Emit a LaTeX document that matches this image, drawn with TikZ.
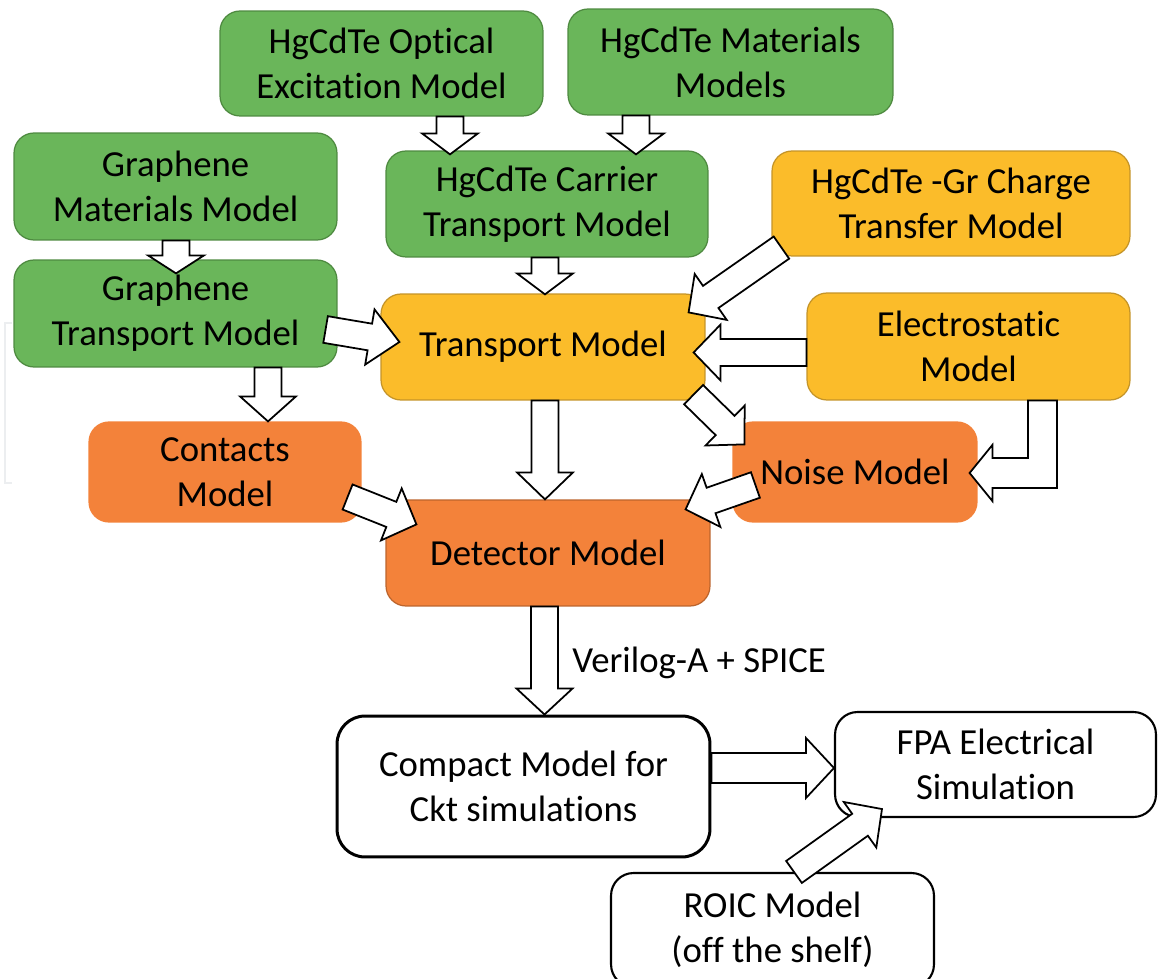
\documentclass[tikz,border=0pt]{standalone}
\usepackage{fontspec}
\setmainfont{Carlito}[Ligatures=NoCommon]
\usetikzlibrary{calc}
\definecolor{gfill}{RGB}{106,182,90}
\definecolor{gline}{RGB}{78,138,64}
\definecolor{yfill}{RGB}{251,188,42}
\definecolor{yline}{RGB}{196,148,40}
\definecolor{ofill}{RGB}{243,130,58}
\definecolor{oline}{RGB}{188,100,44}
\definecolor{faint}{RGB}{236,238,240}
\newcommand\bigf{\fontsize{20.9pt}{25.5pt}\selectfont}
\def\sw{0.27cm}
\def\hw{0.56cm}
% block arrow: optional head length, start coordinate, tip coordinate
\newcommand\barrow[3][0.5cm]{%
  \coordinate (bh) at ($(#3)!#1!(#2)$);
  \draw[blockarr] ($(#2)!\sw!90:(#3)$) -- ($(bh)!\sw!90:(#3)$) -- ($(bh)!\hw!90:(#3)$)
     -- (#3) -- ($(bh)!\hw!-90:(#3)$) -- ($(bh)!\sw!-90:(#3)$) -- ($(#2)!\sw!-90:(#3)$) -- cycle;}
\begin{document}
\begin{tikzpicture}[x=0.02cm,y=-0.02cm,
  box/.style={rounded corners=0.4cm, align=center, inner sep=0pt, font=\bigf},
  gbox/.style={box, fill=gfill, draw=gline, line width=0.7pt},
  ybox/.style={box, fill=yfill, draw=yline, line width=0.7pt},
  obox/.style={box, fill=ofill, draw=ofill, line width=0.7pt},
  wbox/.style={box, fill=white, draw=black, line width=1.2pt},
  blockarr/.style={draw=black, fill=white, line width=1pt, line join=miter}]
\useasboundingbox (0,0) rectangle (1159,979);
% faint background mark
\draw[faint, line width=1.2pt] (12,323) -- (5,323) -- (5,483) -- (12,483);
% boxes
\node[gbox, minimum width=6.46cm, minimum height=2.10cm] (opt) at (381.5,63.5) {HgCdTe Optical\\Excitation Model};
\node[gbox, minimum width=6.50cm, minimum height=2.12cm] (mat) at (730.5,62) {HgCdTe Materials\\Models};
\node[gbox, minimum width=6.46cm, minimum height=2.14cm] (gmat) at (175.5,186.5) {Graphene\\Materials Model};
\node[gbox, minimum width=6.44cm, minimum height=2.12cm] (carr) at (547,204) {HgCdTe Carrier\\Transport Model};
\node[gbox, minimum width=6.46cm, minimum height=2.14cm] (gtr) at (175.5,313.5) {Graphene\\Transport Model};
\node[ybox, minimum width=7.16cm, minimum height=2.10cm] (chg) at (951,203.5) {HgCdTe -Gr Charge\\Transfer Model};
\node[ybox, minimum width=6.48cm, minimum height=2.12cm] (tr) at (543,347) {Transport Model};
\node[ybox, minimum width=6.46cm, minimum height=2.14cm] (el) at (968.5,346.5) {Electrostatic\\Model};
\node[obox, minimum width=5.44cm, minimum height=2.00cm] (con) at (225,472) {Contacts\\Model};
\node[obox, minimum width=4.88cm, minimum height=2.00cm] (noi) at (855,472) {Noise Model};
\node[obox, draw=oline, minimum width=6.48cm, minimum height=2.12cm] (det) at (548,553) {Detector Model};
\node[wbox, line width=1.7pt, rounded corners=0.56cm, minimum width=7.46cm, minimum height=2.82cm] (cmp) at (523.5,786.5) {Compact Model for\\Ckt simulations};
\node[wbox, rounded corners=0.45cm, minimum width=6.42cm, minimum height=2.10cm] (fpa) at (995.5,764.5) {FPA Electrical\\Simulation};
\node[wbox, rounded corners=0.45cm, minimum width=6.46cm, minimum height=2.28cm] (roic) at (772.5,930) {ROIC Model\\(off the shelf)};
% arrow end points
\coordinate (a1s) at (450,0 |- opt.south);  \coordinate (a1e) at ($(450,0 |- carr.north)+(0,4)$);
\coordinate (a2s) at (636,0 |- mat.south);  \coordinate (a2e) at ($(636,0 |- carr.north)+(0,4)$);
\coordinate (a3s) at (545,0 |- carr.south); \coordinate (a3e) at ($(545,0 |- tr.north)+(0,1)$);
\coordinate (a4s) at (176,0 |- gmat.south); \coordinate (a4e) at ($(176,0 |- gtr.north)+(0,14)$);
\coordinate (a5s) at (268,0 |- gtr.south);  \coordinate (a5e) at (268,0 |- con.north);
\coordinate (a6s) at ($(gtr.east)+(-12,16)$); \coordinate (a6e) at ($(tr.west)+(19,-5)$);
\coordinate (a7s) at ($(chg.south west)+(10,-9)$); \coordinate (a7e) at ($(tr.north east)+(-17,19)$);
\coordinate (a8s) at ($(el.west)+(0,6)$); \coordinate (a8e) at ($(tr.east)+(-12,5.5)$);
\coordinate (a9s) at ($(tr.south east)+(-12,-6)$); \coordinate (a9e) at ($(noi.north west)+(12,23)$);
\coordinate (a11s) at ($(noi.west)+(23,13)$); \coordinate (a11e) at ($(det.north east)+(-25,10)$);
\coordinate (a12s) at ($(con.east)+(-14,25)$); \coordinate (a12e) at ($(det.north west)+(31,25)$);
\coordinate (a13s) at (545,0 |- tr.south); \coordinate (a13e) at (545,0 |- det.north);
\coordinate (a14s) at (544.5,0 |- det.south); \coordinate (a14e) at (544.5,0 |- cmp.north);
\coordinate (a15s) at (cmp.east |- 0,768); \coordinate (a15e) at (fpa.west |- 0,768);
\coordinate (a16s) at (794,0 |- roic.north); \coordinate (a16e) at ($(fpa.south west)+(48,-9)$);
\coordinate (e1) at (1042.5,0 |- el.south); \coordinate (e2) at ($(noi.east)+(-8,1)$);
% arrows
\barrow[0.42cm]{a1s}{a1e}
\barrow[0.42cm]{a2s}{a2e}
\barrow[0.42cm]{a3s}{a3e}
\barrow[0.36cm]{a4s}{a4e}
\barrow{a5s}{a5e}
\barrow[0.6cm]{a6s}{a6e}
\barrow[0.54cm]{a7s}{a7e}
\barrow[0.54cm]{a8s}{a8e}
\barrow[0.54cm]{a9s}{a9e}
\barrow[0.54cm]{a11s}{a11e}
\barrow[0.54cm]{a12s}{a12e}
\barrow[0.54cm]{a13s}{a13e}
\barrow[0.52cm]{a14s}{a14e}
\barrow[0.54cm]{a16s}{a16e}
\def\sw{0.3cm}\def\hw{0.6cm}
\barrow[0.56cm]{a15s}{a15e}
% elbow arrow Electrostatic -> Noise
\draw[blockarr] let \p1=(e1), \p2=(e2) in
  (\x1-8.2pt,\y1) -- (\x1-8.2pt,\y2+8.5pt) -- (\x2+13pt,\y2+8.5pt) -- (\x2+13pt,\y2+16pt)
  -- (\x2,\y2) -- (\x2+13pt,\y2-16pt) -- (\x2+13pt,\y2-8.5pt) -- (\x1+8.2pt,\y2-8.5pt)
  -- (\x1+8.2pt,\y1) -- cycle;
% label
\node[font=\bigf, anchor=west, inner sep=0pt] (lab) at (572,663) {Verilog-A + SPICE};
\end{tikzpicture}
\end{document}
